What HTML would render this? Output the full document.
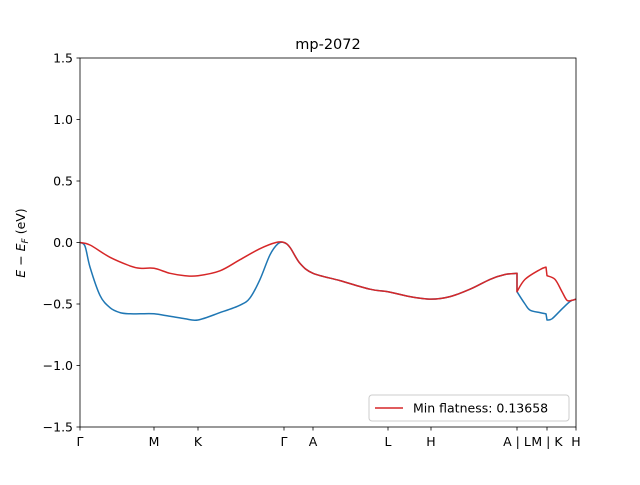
<!DOCTYPE html>
<html><head><meta charset="utf-8"><style>
body{margin:0;background:#fff}
svg{font-family:"DejaVu Sans","Liberation Sans",sans-serif}
</style></head><body>
<svg id="chart" width="640" height="480">
<rect x="0" y="0" width="640" height="480" fill="#fff"/>
<g id="plot"></g>
</svg>
<script>
const tickPos=[0,0.74,1.18,2.04,2.33,3.08,3.51,4.37,4.67,4.96];
const tickLabels=["Γ","M","K","Γ","A","L","H","A | L","M | K","H"];
const yTicks=[-1.5,-1.0,-0.5,0.0,0.5,1.0,1.5];
const yTickLabels=["−1.5","−1.0","−0.5","0.0","0.5","1.0","1.5"];
const blueX=[0,0.05,0.1,0.2,0.3,0.4,0.5,0.6,0.74,0.9,1.05,1.18,1.4,1.6,1.7,1.8,1.9,1.98,2.04,2.1,2.2,2.33,2.6,2.9,3.08,3.3,3.51,3.7,3.9,4.1,4.25,4.37,4.37,4.45,4.5,4.6,4.66,4.67,4.72,4.82,4.9,4.96];
const blueY=[0,-0.03,-0.2,-0.43,-0.53,-0.57,-0.58,-0.58,-0.58,-0.6,-0.62,-0.63,-0.57,-0.51,-0.45,-0.3,-0.1,-0.01,0,-0.04,-0.17,-0.25,-0.31,-0.38,-0.4,-0.44,-0.46,-0.44,-0.38,-0.3,-0.26,-0.25,-0.4,-0.5,-0.55,-0.57,-0.58,-0.63,-0.62,-0.54,-0.48,-0.46];
const redX=[0,0.1,0.3,0.5,0.6,0.74,0.9,1.05,1.18,1.4,1.6,1.8,1.96,2.04,2.1,2.2,2.33,2.6,2.9,3.08,3.3,3.51,3.7,3.9,4.1,4.25,4.37,4.37,4.45,4.6,4.66,4.67,4.75,4.82,4.87,4.92,4.96];
const redY=[0,-0.02,-0.12,-0.19,-0.21,-0.21,-0.25,-0.27,-0.27,-0.23,-0.14,-0.05,0,0,-0.04,-0.17,-0.25,-0.31,-0.38,-0.4,-0.44,-0.46,-0.44,-0.38,-0.3,-0.26,-0.25,-0.4,-0.3,-0.22,-0.2,-0.27,-0.3,-0.4,-0.47,-0.47,-0.46];
const L=80,R=576,T=58,B=427,xMax=4.96,yMin=-1.5,yMax=1.5;
const sx=v=>L+v/xMax*(R-L), sy=v=>B-(v-yMin)/(yMax-yMin)*(B-T);
const g=document.getElementById('plot');const NS="http://www.w3.org/2000/svg";
function mk(t,a,p){const e=document.createElementNS(NS,t);for(const k in a)e.setAttribute(k,a[k]);(p||g).appendChild(e);return e;}
function smoothPath(xs,ys){
  const pts=xs.map((x,i)=>[sx(x),sy(ys[i])]);
  const segs=[];let cur=[pts[0]];
  for(let i=1;i<pts.length;i++){
    if(Math.abs(xs[i]-xs[i-1])<0.015){segs.push(cur);cur=[pts[i]];}
    else cur.push(pts[i]);
  }
  segs.push(cur);
  let d='';let first=true;
  segs.forEach(s=>{
    d+=(first?'M':'L')+s[0][0].toFixed(1)+','+s[0][1].toFixed(1);first=false;
    for(let i=0;i<s.length-1;i++){
      const p0=s[Math.max(0,i-1)],p1=s[i],p2=s[i+1],p3=s[Math.min(s.length-1,i+2)];
      const c1=[p1[0]+(p2[0]-p0[0])/6,p1[1]+(p2[1]-p0[1])/6];
      const c2=[p2[0]-(p3[0]-p1[0])/6,p2[1]-(p3[1]-p1[1])/6];
      d+='C'+c1[0].toFixed(1)+','+c1[1].toFixed(1)+' '+c2[0].toFixed(1)+','+c2[1].toFixed(1)+' '+p2[0].toFixed(1)+','+p2[1].toFixed(1);
    }
  });
  return d;
}
function line(xs,ys,c,name){
const p=mk('path',{d:smoothPath(xs,ys),fill:'none',stroke:c,'stroke-width':1.5,'stroke-linejoin':'round'});

}
line(blueX,blueY,'#1f77b4','band-blue');
line(redX,redY,'#d62728','band-red');
mk('rect',{x:L,y:T,width:R-L,height:B-T,fill:'none',stroke:'#000','stroke-width':0.8});
tickPos.forEach((p,i)=>{const x=sx(p);mk('line',{x1:x,x2:x,y1:B,y2:B+3.5,stroke:'#000','stroke-width':0.8});
const t=mk('text',{x:x,y:B+19,'text-anchor':'middle','font-size':12.5});t.textContent=tickLabels[i];

});
yTicks.forEach((v,i)=>{const y=sy(v);mk('line',{x1:L-3.5,x2:L,y1:y,y2:y,stroke:'#000','stroke-width':0.8});
const t=mk('text',{x:L-7,y:y+4.5,'text-anchor':'end','font-size':12.5});t.textContent=yTickLabels[i];

});
const ti=mk('text',{x:328,y:49,'text-anchor':'middle','font-size':14.5});ti.textContent='mp-2072';


const yl=mk('text',{x:25,y:243,'text-anchor':'middle','font-size':12.5,transform:'rotate(-90 25 243)'});
yl.innerHTML='<tspan font-style="italic">E</tspan> − <tspan font-style="italic">E</tspan><tspan font-size="9" dy="3" font-style="italic">F</tspan><tspan dy="-3"> (eV)</tspan>';


const lg=mk('g',{});


mk('rect',{x:369,y:395,width:200,height:26,rx:3,fill:'#fff',stroke:'#ccc','stroke-width':1},lg);
mk('line',{x1:375,x2:403,y1:408,y2:408,stroke:'#d62728','stroke-width':1.5},lg);
const lt=mk('text',{x:413,y:412.5,'font-size':12.5},lg);lt.textContent='Min flatness: 0.13658';
</script>
</body></html>
